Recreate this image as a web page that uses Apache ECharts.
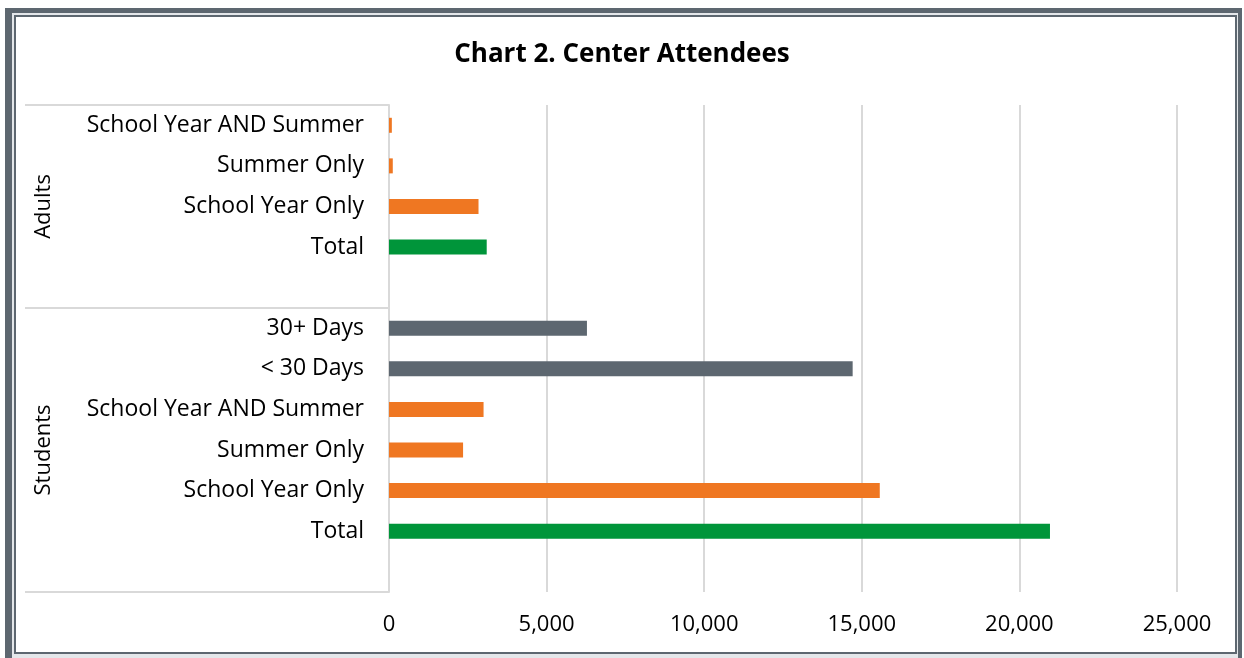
<!DOCTYPE html>
<html>
<head>
<meta charset="utf-8">
<script src="https://cdn.jsdelivr.net/npm/echarts@6/dist/echarts.min.js"></script>
<style>
  html, body { margin: 0; padding: 0; background: #fff; }
  .frame-outer {
    position: absolute; left: 5px; top: 8px; width: 1226px; height: 660px;
    border-left: 7px solid #5D6770; border-top: 5px solid #5D6770; border-right: 4px solid #5D6770;
    background: #e4e7ea;
  }
  .frame-inner {
    position: absolute; left: 14px; top: 15px; width: 1219px; height: 635px;
    border: 2px solid #5D6770; background: #fff;
  }
  #chart { position: absolute; left: 0; top: 0; width: 1244px; height: 658px; }
</style>
</head>
<body>
<div class="frame-outer"></div>
<div class="frame-inner"></div>
<div id="chart"></div>
<script>
// bottom-to-top, blank slot under each group like the source sheet
const categories = ['', 'Total', 'School Year Only', 'Summer Only', 'School Year AND Summer', '< 30 Days', '30+ Days',
                    '', 'Total', 'School Year Only', 'Summer Only', 'School Year AND Summer']
const groupNames = ['Students', 'Adults']
const groupSizes = [7, 5]

const totalVals  = ['-', 20970, '-', '-', '-', '-', '-', '-', 3100, '-', '-', '-']
const seasonVals = ['-', '-', 15570, 2350, 3000, '-', '-', '-', '-', 2840, 120, 90]
const daysVals   = ['-', '-', '-', '-', '-', 14710, 6280, '-', '-', '-', '-', '-']

const xTicks = [0, 5000, 10000, 15000, 20000, 25000]

const FONT = '"Open Sans"'
const GRID_LINE = '#D9D9D9'

// group boundary indices (start of each group) for the long separator ticks
const groupStarts = []
const groupMids = {}
let acc = 0
groupSizes.forEach((n, i) => {
  groupStarts.push(acc)
  groupMids[acc + n / 2] = groupNames[i]
  acc += n
})

const chart = echarts.init(document.getElementById('chart'))
chart.setOption({
  animation: false,
  textStyle: { fontFamily: FONT },
  title: {
    text: 'Chart 2. Center Attendees',
    left: 'center',
    top: 37,
    textStyle: { fontFamily: FONT, fontSize: 26, fontWeight: 'bold', color: '#000' },
  },
  grid: { left: 389, right: 67, top: 105, bottom: 66, containLabel: false },
  xAxis: {
    type: 'value',
    min: xTicks[0],
    max: xTicks[xTicks.length - 1],
    interval: xTicks[1] - xTicks[0],
    axisLine: { show: false },
    axisTick: { show: false },
    axisLabel: {
      fontFamily: FONT, fontSize: 22, color: '#000', margin: 22,
      formatter: v => v.toLocaleString('en-US'),
    },
    splitLine: { lineStyle: { color: GRID_LINE, width: 2 } },
  },
  yAxis: [
    {
      type: 'category',
      data: categories,
      axisLine: { show: true, lineStyle: { color: GRID_LINE, width: 2 } },
      axisTick: {
        show: true,
        length: 364,
        interval: (idx) => groupStarts.includes(idx),
        lineStyle: { color: GRID_LINE, width: 2 },
      },
      axisLabel: { interval: 0, fontFamily: FONT, fontSize: 23, color: '#000', margin: 25, padding: [5, 0, 0, 0] },
      splitLine: { show: false },
    },
    {
      type: 'value',
      position: 'left',
      offset: 332,
      min: 0,
      max: categories.length,
      interval: 0.5,
      axisLine: { show: false },
      axisTick: { show: false },
      splitLine: { show: false },
      axisLabel: {
        rotate: 90, margin: 2, fontFamily: FONT, fontSize: 22, color: '#000',
        showMinLabel: true, showMaxLabel: true,
        formatter: v => groupMids[v] || '',
      },
    },
  ],
  series: [
    { name: 'Total', type: 'bar', stack: 'all', barWidth: 15, data: totalVals, itemStyle: { color: '#00953A' } },
    { name: 'Season', type: 'bar', stack: 'all', barWidth: 15, data: seasonVals, itemStyle: { color: '#EF7722' } },
    { name: 'Days', type: 'bar', stack: 'all', barWidth: 15, data: daysVals, itemStyle: { color: '#5D6770' } },
  ],
})
</script>
</body>
</html>
